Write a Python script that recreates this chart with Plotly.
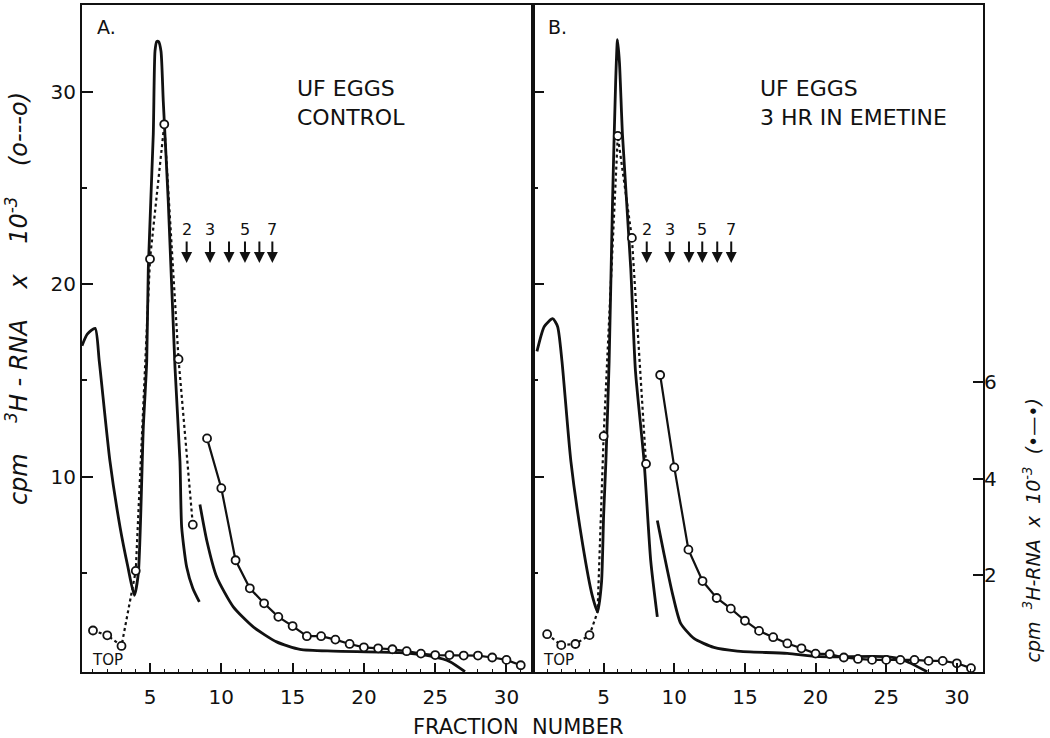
import plotly.graph_objects as go

# ---------------- data ----------------
# Panel A: dashed open-circle series (left axis, cpm x 10^-3)
frA_dash = [1, 2, 3, 4, 5, 6, 7, 8]
cpmA_dash = [2.0, 1.75, 1.2, 5.1, 21.3, 28.3, 16.1, 7.5]
# Panel A: solid circle series (right axis scale)
frA_solid = list(range(9, 32))
cpmA_solid = [4.83, 3.80, 2.31, 1.73, 1.42, 1.14, 0.95, 0.74, 0.74, 0.67, 0.58, 0.51,
              0.49, 0.47, 0.43, 0.38, 0.35, 0.35, 0.34, 0.34, 0.30, 0.25, 0.14]
# Panel A: absorbance profile (no markers), in left-axis units
absA1_x = [0.23, 0.6, 1.15, 1.44, 2.19, 2.9, 3.45, 3.9, 4.18, 4.53, 4.77, 4.88, 5.23, 5.35, 5.47,
           5.6, 5.77, 5.93, 6.28, 6.75, 7.1, 7.22, 7.57, 8.0, 8.46]
absA1_y = [16.8, 17.4, 17.7, 16.0, 10.8, 7.37, 5.3, 3.83, 4.97, 12.55, 16.0, 20.8, 27.8, 32.1, 32.6,
           32.6, 32.1, 29.5, 24.3, 15.7, 10.8, 7.37, 5.3, 4.2, 3.49]
absA2_x = [8.5, 8.98, 9.68, 10.84, 12.24, 13.88, 15.52, 17.85, 22.5, 24.87, 26.04, 27.09]
absA2_y = [8.55, 6.68, 4.78, 3.23, 2.19, 1.41, 1.02, 0.93, 0.85, 0.64, 0.38, -0.14]

# Panel B: dashed open-circle series (left axis)
frB_dash = [1, 2, 3, 4, 5, 6, 7, 8]
cpmB_dash = [1.81, 1.24, 1.30, 1.76, 12.1, 27.7, 22.4, 10.66]
# the drawn dashed line bends at the trough between fractions 4 and 5
bendB_x = 4.57
bendB_y = 2.97
# Panel B: solid circle series (right axis)
frB_solid = list(range(9, 32))
cpmB_solid = [6.14, 4.23, 2.53, 1.88, 1.53, 1.31, 1.06, 0.85, 0.72, 0.59, 0.49, 0.38,
              0.37, 0.30, 0.27, 0.25, 0.25, 0.25, 0.25, 0.23, 0.23, 0.18, 0.08]
# Panel B: absorbance profile
absB1_x = [0.28, 0.8, 1.39, 1.74, 2.05, 2.68, 3.51, 4.2, 4.57, 4.85, 5.0, 5.16, 5.39, 5.63, 5.85,
           5.98, 6.12, 6.33, 6.92, 7.25, 7.86, 8.33, 8.8]
absB1_y = [16.5, 17.8, 18.2, 17.8, 16.0, 10.8, 6.5, 3.8, 2.97, 4.5, 8.0, 10.8, 16.0, 24.3, 30.5,
           32.7, 31.5, 27.8, 20.8, 15.5, 10.8, 5.65, 2.71]
absB2_x = [8.8, 9.27, 9.87, 10.45, 11.39, 12.8, 14.46, 18.0, 20.3, 25.05, 26.2, 27.9]
absB2_y = [7.72, 5.99, 3.92, 2.37, 1.59, 1.12, 0.93, 0.81, 0.64, 0.64, 0.47, -0.14]

# Sedimentation marker arrows (fraction positions) and their labels
arrowsA = [7.57, 9.21, 10.54, 11.66, 12.67, 13.58]
arrowsB = [8.05, 9.68, 11.04, 11.98, 13.04, 14.03]
arrow_labels = ["2", "3", "", "5", "", "7"]

left_ticks = [10, 20, 30]
right_ticks = [2, 4, 6]
x_ticks = [5, 10, 15, 20, 25, 30]

# ---------------- figure ----------------
INK = "#111111"
FONT = "DejaVu Sans"
LEFT_RANGE = [-0.155, 34.5]
RIGHT_RANGE = [0, 13.79]

fig = go.Figure()

def absorb(x, y, xa, ya):
    fig.add_trace(go.Scatter(x=x, y=y, xaxis=xa, yaxis=ya, mode="lines",
                             line=dict(color=INK, width=2.8, shape="spline", smoothing=0.6),
                             hoverinfo="skip", showlegend=False))

def dashed(x, y, xa, ya, bend=None):
    lx, ly = list(x), list(y)
    if bend is not None:
        i = next(k for k, v in enumerate(lx) if v > bend[0])
        lx.insert(i, bend[0])
        ly.insert(i, bend[1])
    fig.add_trace(go.Scatter(x=lx, y=ly, xaxis=xa, yaxis=ya, mode="lines",
                             line=dict(color=INK, width=2.2, dash="dot"),
                             hoverinfo="skip", showlegend=False))
    fig.add_trace(go.Scatter(x=x, y=y, xaxis=xa, yaxis=ya, mode="markers",
                             marker=dict(symbol="circle", size=8, color="white",
                                         line=dict(color=INK, width=1.8)),
                             showlegend=False))

def solid(x, y, xa, ya):
    fig.add_trace(go.Scatter(x=x, y=y, xaxis=xa, yaxis=ya, mode="lines+markers",
                             line=dict(color=INK, width=2.2),
                             marker=dict(symbol="circle", size=8, color="white",
                                         line=dict(color=INK, width=1.8)),
                             showlegend=False))

absorb(absA1_x, absA1_y, "x", "y")
absorb(absA2_x, absA2_y, "x", "y")
dashed(frA_dash, cpmA_dash, "x", "y")
solid(frA_solid, cpmA_solid, "x", "y4")

absorb(absB1_x, absB1_y, "x2", "y2")
absorb(absB2_x, absB2_y, "x2", "y2")
dashed(frB_dash, cpmB_dash, "x2", "y2", bend=(bendB_x, bendB_y))
solid(frB_solid, cpmB_solid, "x2", "y3")

split = (533 - 82) / 901.0
tickfont = dict(family=FONT, size=20, color=INK)

xcommon = dict(tickvals=x_ticks, ticks="inside", ticklen=9, tickwidth=2, tickcolor=INK,
               showline=True, linewidth=2, linecolor=INK, mirror=True, showgrid=False,
               zeroline=False, tickfont=tickfont, ticklabelstandoff=6,
               minor=dict(dtick=1, ticks="inside", ticklen=3, tickwidth=1, tickcolor=INK))
ycommon = dict(range=LEFT_RANGE, tickvals=left_ticks, ticks="inside", ticklen=11, tickwidth=2,
               tickcolor=INK, showline=True, linewidth=2, linecolor=INK, mirror=True,
               showgrid=False, zeroline=False, tickfont=tickfont,
               minor=dict(tickvals=[5, 15, 25], ticks="inside", ticklen=5, tickwidth=2,
                          tickcolor=INK))

fig.update_layout(
    width=1050, height=738,
    margin=dict(l=82, r=67, t=3, b=66),
    paper_bgcolor="white", plot_bgcolor="white",
    font=dict(family=FONT, color=INK),
    xaxis=dict(domain=[0, split], range=[0.23, 31.86], anchor="y", **xcommon),
    xaxis2=dict(domain=[split, 1], range=[0.0, 31.85], anchor="y2", **xcommon),
    yaxis=dict(anchor="x", **ycommon),
    yaxis2=dict(anchor="x2", showticklabels=False, **ycommon),
    yaxis3=dict(anchor="x2", overlaying="y2", side="right", range=RIGHT_RANGE,
                tickvals=right_ticks, ticks="inside", ticklen=10, tickwidth=2, tickcolor=INK,
                showline=False, showgrid=False, zeroline=False, tickfont=tickfont),
    yaxis4=dict(anchor="x", overlaying="y", range=RIGHT_RANGE, visible=False),
    # extra axis on panel B giving the left-pointing half of the crossing ticks
    yaxis5=dict(anchor="x2", overlaying="y2", side="left", range=LEFT_RANGE,
                tickvals=left_ticks, ticks="outside", ticklen=5, tickwidth=2, tickcolor=INK,
                showticklabels=False, showline=False, showgrid=False, zeroline=False,
                minor=dict(tickvals=[5, 15, 25], ticks="outside", ticklen=5, tickwidth=2,
                           tickcolor=INK)),
)

ann = []
# arrows
for xs, xr in ((arrowsA, "x"), (arrowsB, "x2")):
    yr = "y" if xr == "x" else "y2"
    for fx, lab in zip(xs, arrow_labels):
        ann.append(dict(x=fx, y=21.1, xref=xr, yref=yr, ax=0, ay=-23, text="",
                        showarrow=True, arrowhead=2, arrowsize=1.1, arrowwidth=2,
                        arrowcolor=INK))
        if lab:
            ann.append(dict(x=fx, y=22.85, xref=xr, yref=yr, text=lab, showarrow=False,
                            font=dict(family=FONT, size=16, color=INK),
                            xanchor="center", yanchor="middle"))

# panel letters and condition text
for xr, yr, letter, cond in (("x domain", "y domain", "A.", "UF EGGS<br>CONTROL"),
                             ("x2 domain", "y2 domain", "B.", "UF EGGS<br>3 HR IN EMETINE")):
    ann.append(dict(x=0.028, y=0.967, xref=xr, yref=yr, text=letter, showarrow=False,
                    xanchor="left", yanchor="middle",
                    font=dict(family=FONT, size=19, color=INK)))
    ann.append(dict(x=0.472 if letter == "A." else 0.5, y=0.853, xref=xr, yref=yr, text=cond,
                    showarrow=False, xanchor="left", yanchor="middle", align="left",
                    font=dict(family=FONT, size=22, color=INK)))
    ann.append(dict(x=0.018, y=0.018, xref=xr, yref=yr, text="TOP", showarrow=False,
                    xanchor="left", yanchor="middle",
                    font=dict(family=FONT, size=15, color=INK)))

# axis titles
ann.append(dict(x=(518 - 82) / 901.0, y=0, xref="paper", yref="paper", yshift=-55,
                text="FRACTION  NUMBER", showarrow=False, xanchor="center", yanchor="middle",
                font=dict(family=FONT, size=21, color=INK)))
ann.append(dict(x=0, y=(672 - 298) / 669.0, xref="paper", yref="paper", xshift=-65,
                text="<i>cpm    <sup>3</sup>H - RNA    x    10<sup>-3</sup>    (o---o)</i>",
                textangle=-90, showarrow=False, xanchor="center", yanchor="middle",
                font=dict(family=FONT, size=24, color=INK)))
ann.append(dict(x=1, y=(672 - 530) / 669.0, xref="paper", yref="paper", xshift=49,
                text="<i>cpm  <sup>3</sup>H-RNA  x  10<sup>-3</sup>  (•—•)</i>",
                textangle=-90, showarrow=False, xanchor="center", yanchor="middle",
                font=dict(family=FONT, size=19, color=INK)))

fig.update_layout(annotations=ann)
fig.write_html("out.html", post_script="document.body.style.margin='0';",
               config={"displayModeBar": False})
